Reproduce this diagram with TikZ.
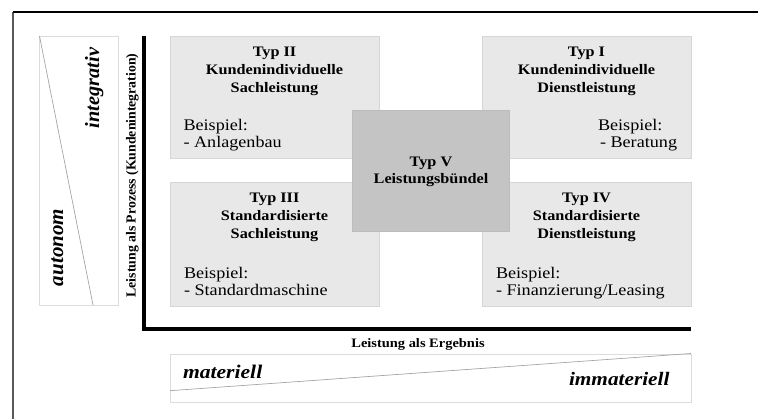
\documentclass[tikz,border=0pt]{standalone}
\usepackage{fontspec}
\setmainfont{Liberation Serif}[FakeStretch=1.12]
\newfontfamily\uprightserif{Liberation Serif}
\usetikzlibrary{calc}

\definecolor{boxfill}{RGB}{232,232,232}
\definecolor{boxline}{RGB}{214,214,214}
\definecolor{corefill}{RGB}{196,196,196}
\definecolor{coreline}{RGB}{188,188,188}
\definecolor{gradeframe}{RGB}{220,220,220}
\definecolor{gradediag}{RGB}{165,165,165}

\begin{document}
\begin{tikzpicture}[x=1pt,y=-1pt,
  every node/.style={inner sep=0pt, outer sep=0pt},
  typebox/.style={draw=boxline, fill=boxfill, line width=0.8pt},
  corebox/.style={draw=coreline, fill=corefill, line width=0.8pt},
  titletext/.style={font=\bfseries\fontsize{14.5}{17}\selectfont, anchor=base},
  exampletext/.style={font=\fontsize{16.2}{19}\selectfont, anchor=base west},
  axislabel/.style={font=\bfseries\fontsize{12.9}{15}\selectfont, anchor=base},
  sidelabel/.style={font=\uprightserif\bfseries\fontsize{13.8}{16}\selectfont, anchor=base, rotate=90},
  gradeword/.style={font=\uprightserif\bfseries\itshape\fontsize{#1}{#1}\selectfont, anchor=base, rotate=90},
  poleword/.style={font=\bfseries\itshape\fontsize{#1}{#1}\selectfont, anchor=base west},
  gradebox/.style={draw=gradeframe, line width=0.8pt},
  gradeslope/.style={draw=gradediag, line width=0.7pt},
  axisline/.style={line width=4pt, line join=miter},
]
\useasboundingbox (0,0) rectangle (758,419);

% outer frame (only top and left edges fall inside the sheet)
\coordinate (fbl) at (13,419);
\coordinate (ftl) at (13,12);
\coordinate (ftr) at (758,12);
\draw[line width=1.2pt, black!65] (fbl) -- (ftl);
\draw[line width=1.6pt, black] (ftl) -- (ftr);

% vertical scale: autonom -> integrativ
\coordinate (gtl) at (39.5,36);
\coordinate (gbr) at (118,305);
\coordinate (gbd) at (93,305);
\draw[gradebox] (gtl) rectangle (gbr);
\draw[gradeslope] (gtl) -- (gbd);
\node[gradeword=20.3] (integ) at (99,88) {integrativ};
\node[gradeword=21] (auton) at (63,247.5) {autonom};

% axis label (vertical)
\node[sidelabel] (yl) at (135.5,175.5) {Leistung als Prozess (Kundenintegration)};

% the four quadrant boxes
\node[typebox, minimum width=209pt, minimum height=122pt] (t2) at (274.5,97) {};
\node[typebox, minimum width=209pt, minimum height=122pt] (t1) at (586.5,97) {};
\node[typebox, minimum width=209pt, minimum height=124pt] (t3) at (274.5,244) {};
\node[typebox, minimum width=209pt, minimum height=124pt] (t4) at (586.5,244) {};

% Typ II
\node[titletext] (t2a) at ($(t2.north)+(0,21)$) {Typ II};
\node[titletext] (t2b) at ($(t2.north)+(0,39)$) {Kundenindividuelle};
\node[titletext] (t2c) at ($(t2.north)+(0,57)$) {Sachleistung};
\node[exampletext] (t2d) at (183.5,130.5) {Beispiel:};
\node[exampletext] (t2e) at (183.5,147.5) {- Anlagenbau};

% Typ I
\node[titletext] (t1a) at ($(t1.north)+(0,21)$) {Typ I};
\node[titletext] (t1b) at ($(t1.north)+(0,39)$) {Kundenindividuelle};
\node[titletext] (t1c) at ($(t1.north)+(0,57)$) {Dienstleistung};
\node[exampletext] (t1d) at (598,130.5) {Beispiel:};
\node[exampletext] (t1e) at (600,147.5) {- Beratung};

% Typ III
\node[titletext] (t3a) at ($(t3.north)+(0,21)$) {Typ III};
\node[titletext] (t3b) at ($(t3.north)+(0,39)$) {Standardisierte};
\node[titletext] (t3c) at ($(t3.north)+(0,57)$) {Sachleistung};
\node[exampletext] (t3d) at (184,278.5) {Beispiel:};
\node[exampletext] (t3e) at (184,295.5) {- Standardmaschine};

% Typ IV
\node[titletext] (t4a) at ($(t4.north)+(0,21)$) {Typ IV};
\node[titletext] (t4b) at ($(t4.north)+(0,39)$) {Standardisierte};
\node[titletext] (t4c) at ($(t4.north)+(0,57)$) {Dienstleistung};
\node[exampletext] (t4d) at (496,278.5) {Beispiel:};
\node[exampletext] (t4e) at (496,295.5) {- Finanzierung/Leasing};

% Typ V in the middle, on top of the others
\node[corebox, minimum width=156.5pt, minimum height=121pt] (t5) at (430.75,170.5) {};
\node[titletext] (t5a) at (431,166.7) {Typ V};
\node[titletext] (t5b) at (431,184) {Leistungsbündel};

% axes
\coordinate (axtop) at (144,36.5);
\coordinate (axcorner) at (144,329);
\coordinate (axend) at (691,329);
\draw[axisline] (axtop) -- (axcorner) -- (axend);
\node[axislabel] (xl) at (418,348) {Leistung als Ergebnis};

% horizontal scale: materiell -> immateriell
\coordinate (htl) at (170,354);
\coordinate (hbr) at (691,402.3);
\coordinate (hdl) at (170,390.7);
\coordinate (hdr) at (691,353.5);
\draw[gradebox] (htl) rectangle (hbr);
\draw[gradeslope] (hdl) -- (hdr);
\node[poleword=19.3] (mat) at (183,379) {materiell};
\node[poleword=19] (immat) at (569,385.7) {immateriell};
\end{tikzpicture}
\end{document}
